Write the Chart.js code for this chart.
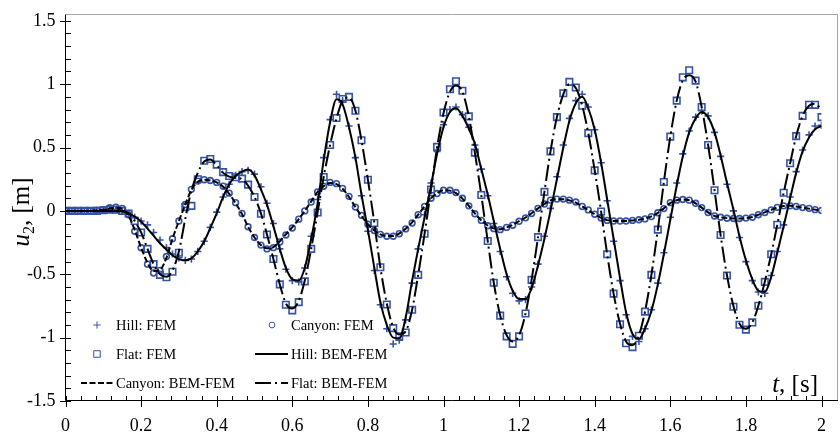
<!DOCTYPE html>
<html>
<head>
<meta charset="utf-8">
<script src="https://cdn.jsdelivr.net/npm/chart.js@4.4.1/dist/chart.umd.min.js"></script>
<style>
  html, body { margin: 0; padding: 0; background: #fff; }
  #wrap { width: 840px; height: 434px; }
</style>
</head>
<body>
<div id="wrap"><canvas id="chart" width="840" height="434"></canvas></div>
<script>
// time samples, s (FEM output every 1/60 s)
const times = [
  0, 0.017, 0.033, 0.05, 0.067, 0.083,
  0.1, 0.117, 0.133, 0.15, 0.167, 0.183,
  0.2, 0.217, 0.233, 0.25, 0.267, 0.283,
  0.3, 0.317, 0.333, 0.35, 0.367, 0.383,
  0.4, 0.417, 0.433, 0.45, 0.467, 0.483,
  0.5, 0.517, 0.533, 0.55, 0.567, 0.583,
  0.6, 0.617, 0.633, 0.65, 0.667, 0.683,
  0.7, 0.717, 0.733, 0.75, 0.767, 0.783,
  0.8, 0.817, 0.833, 0.85, 0.867, 0.883,
  0.9, 0.917, 0.933, 0.95, 0.967, 0.983,
  1.0, 1.017, 1.033, 1.05, 1.067, 1.083,
  1.1, 1.117, 1.133, 1.15, 1.167, 1.183,
  1.2, 1.217, 1.233, 1.25, 1.267, 1.283,
  1.3, 1.317, 1.333, 1.35, 1.367, 1.383,
  1.4, 1.417, 1.433, 1.45, 1.467, 1.483,
  1.5, 1.517, 1.533, 1.55, 1.567, 1.583,
  1.6, 1.617, 1.633, 1.65, 1.667, 1.683,
  1.7, 1.717, 1.733, 1.75, 1.767, 1.783,
  1.8, 1.817, 1.833, 1.85, 1.867, 1.883,
  1.9, 1.917, 1.933, 1.95, 1.967, 1.983,
  2.0
];

// u2 [m] - FEM results (markers)
const hillFem = [
  0, 0, 0, 0, 0, 0,
  0.005, 0.01, 0.01, 0, -0.02, -0.05,
  -0.08, -0.11, -0.17, -0.23, -0.29, -0.34,
  -0.37, -0.39, -0.38, -0.32, -0.24, -0.13,
  -0.01, 0.11, 0.21, 0.28, 0.31, 0.32,
  0.29, 0.19, 0.06, -0.1, -0.3, -0.46,
  -0.55, -0.56, -0.45, -0.2, 0.09, 0.42,
  0.72, 0.92, 0.87, 0.67, 0.42, 0.12,
  -0.16, -0.47, -0.74, -0.93, -1.05, -1.02,
  -0.86, -0.57, -0.3, -0.03, 0.22, 0.47,
  0.68, 0.8, 0.82, 0.76, 0.66, 0.52,
  0.33, 0.12, -0.1, -0.32, -0.52, -0.65,
  -0.71, -0.7, -0.6, -0.42, -0.2, 0.02,
  0.27, 0.52, 0.73, 0.87, 0.92, 0.82,
  0.64, 0.38, 0.08, -0.24, -0.55, -0.82,
  -0.99, -1.03, -0.93, -0.78, -0.57, -0.33,
  -0.05, 0.22, 0.45, 0.63, 0.74, 0.79,
  0.75, 0.62, 0.43, 0.21, 0, -0.21,
  -0.4, -0.55, -0.64, -0.65, -0.51, -0.32,
  -0.11, 0.11, 0.31, 0.48, 0.6, 0.67,
  0.675
];
const canyonFem = [
  0, 0, 0, 0, 0, 0.005,
  0.01, 0.025, 0.03, 0.02, -0.03, -0.16,
  -0.29, -0.42, -0.49, -0.47, -0.36, -0.22,
  -0.08, 0.05, 0.17, 0.235, 0.246, 0.24,
  0.225, 0.195, 0.14, 0.065, -0.02, -0.125,
  -0.21, -0.27, -0.3, -0.29, -0.245, -0.19,
  -0.135, -0.065, 0, 0.07, 0.15, 0.195,
  0.225, 0.215, 0.178, 0.115, 0.03, -0.035,
  -0.105, -0.155, -0.185, -0.2, -0.2, -0.18,
  -0.142, -0.095, -0.03, 0.035, 0.1, 0.137,
  0.163, 0.163, 0.145, 0.1, 0.04, -0.023,
  -0.075, -0.117, -0.14, -0.148, -0.13, -0.113,
  -0.082, -0.055, -0.02, 0.02, 0.054, 0.085,
  0.093, 0.093, 0.085, 0.07, 0.035, 0.008,
  -0.026, -0.057, -0.075, -0.08, -0.08, -0.08,
  -0.075, -0.07, -0.063, -0.045, -0.015, 0.018,
  0.065, 0.085, 0.09, 0.085, 0.06, 0.026,
  -0.013, -0.04, -0.05, -0.058, -0.06, -0.06,
  -0.057, -0.05, -0.03, -0.013, 0.008, 0.028,
  0.04, 0.04, 0.035, 0.026, 0.02, 0.01,
  0.003
];
const flatFem = [
  0, 0, 0, 0, 0, 0,
  0.005, 0.01, 0.01, 0, -0.02, -0.08,
  -0.17, -0.3, -0.42, -0.505, -0.523, -0.48,
  -0.33, 0.03, 0.04, 0.25, 0.396, 0.41,
  0.365, 0.306, 0.275, 0.265, 0.255, 0.207,
  0.11, -0.023, -0.186, -0.38, -0.58, -0.74,
  -0.785, -0.72, -0.556, -0.3, -0.013, 0.267,
  0.52, 0.733, 0.883, 0.9, 0.79, 0.557,
  0.246, -0.096, -0.445, -0.738, -0.925, -0.99,
  -0.96, -0.78, -0.505, -0.18, 0.169, 0.505,
  0.777, 0.96, 1.023, 0.948, 0.746, 0.46,
  0.125, -0.238, -0.567, -0.826, -0.99, -1.049,
  -0.99, -0.81, -0.544, -0.207, 0.15, 0.47,
  0.74, 0.928, 1.018, 0.974, 0.83, 0.614,
  0.32, -0.005, -0.342, -0.653, -0.894, -1.044,
  -1.075, -0.985, -0.795, -0.505, -0.148, 0.228,
  0.586, 0.87, 1.054, 1.11, 1.028, 0.82,
  0.52, 0.163, -0.19, -0.51, -0.756, -0.898,
  -0.937, -0.88, -0.748, -0.56, -0.342, -0.109,
  0.143, 0.376, 0.59, 0.75, 0.837, 0.837,
  0.74
];

// u2 [m] - BEM-FEM results (lines)
const hillLine = [
  0, 0, 0, 0, 0, 0,
  0, 0, 0, -0.005, -0.02, -0.045,
  -0.083, -0.14, -0.195, -0.255, -0.305, -0.35,
  -0.38, -0.39, -0.375, -0.32, -0.24, -0.135,
  -0.02, 0.11, 0.21, 0.275, 0.31, 0.326,
  0.28, 0.17, 0.05, -0.12, -0.3, -0.45,
  -0.54, -0.55, -0.45, -0.22, 0.06, 0.4,
  0.7, 0.88, 0.84, 0.66, 0.42, 0.13,
  -0.15, -0.45, -0.72, -0.9, -1.0, -1.005,
  -0.84, -0.55, -0.3, -0.05, 0.2, 0.45,
  0.66, 0.78, 0.81, 0.75, 0.65, 0.53,
  0.33, 0.13, -0.08, -0.3, -0.5, -0.63,
  -0.695, -0.695, -0.61, -0.43, -0.22, 0,
  0.25, 0.5, 0.71, 0.85, 0.9, 0.81,
  0.64, 0.38, 0.09, -0.22, -0.53, -0.8,
  -0.97, -1.01, -0.93, -0.79, -0.58, -0.34,
  -0.07, 0.2, 0.43, 0.62, 0.73, 0.78,
  0.74, 0.62, 0.44, 0.22, 0.01, -0.2,
  -0.39, -0.54, -0.63, -0.64, -0.52, -0.33,
  -0.12, 0.1, 0.3, 0.47, 0.58, 0.645,
  0.67
];
const canyonLine = [
  0, 0, 0, 0, 0, 0.005,
  0.01, 0.02, 0.025, 0.015, -0.04, -0.15,
  -0.29, -0.41, -0.475, -0.465, -0.37, -0.22,
  -0.08, 0.05, 0.165, 0.23, 0.245, 0.24,
  0.225, 0.19, 0.135, 0.06, -0.025, -0.125,
  -0.21, -0.27, -0.295, -0.285, -0.24, -0.185,
  -0.13, -0.065, 0, 0.075, 0.15, 0.195,
  0.22, 0.212, 0.175, 0.11, 0.03, -0.04,
  -0.105, -0.155, -0.185, -0.198, -0.198, -0.178,
  -0.14, -0.09, -0.03, 0.035, 0.1, 0.14,
  0.163, 0.16, 0.14, 0.097, 0.04, -0.02,
  -0.075, -0.115, -0.138, -0.145, -0.13, -0.11,
  -0.08, -0.052, -0.018, 0.02, 0.055, 0.083,
  0.092, 0.092, 0.083, 0.065, 0.035, 0.006,
  -0.027, -0.055, -0.073, -0.08, -0.08, -0.079,
  -0.075, -0.07, -0.06, -0.043, -0.015, 0.02,
  0.062, 0.084, 0.09, 0.084, 0.06, 0.026,
  -0.012, -0.04, -0.05, -0.057, -0.06, -0.06,
  -0.056, -0.048, -0.03, -0.012, 0.008, 0.027,
  0.038, 0.04, 0.035, 0.026, 0.018, 0.01,
  0.002
];
const flatLine = [
  0, 0, 0, 0, 0, 0,
  0.005, 0.01, 0.01, 0, -0.02, -0.08,
  -0.17, -0.3, -0.42, -0.5, -0.52, -0.47,
  -0.32, -0.06, 0.16, 0.3, 0.39, 0.405,
  0.36, 0.3, 0.27, 0.262, 0.25, 0.2,
  0.11, -0.02, -0.186, -0.38, -0.58, -0.73,
  -0.77, -0.71, -0.55, -0.3, -0.01, 0.267,
  0.52, 0.73, 0.87, 0.895, 0.79, 0.557,
  0.246, -0.096, -0.445, -0.73, -0.92, -0.975,
  -0.95, -0.78, -0.505, -0.18, 0.169, 0.5,
  0.77, 0.94, 0.99, 0.94, 0.746, 0.46,
  0.125, -0.238, -0.567, -0.826, -0.98, -1.03,
  -0.98, -0.81, -0.544, -0.207, 0.15, 0.47,
  0.74, 0.92, 1.0, 0.97, 0.83, 0.614,
  0.32, -0.005, -0.342, -0.653, -0.89, -1.03,
  -1.06, -0.98, -0.795, -0.505, -0.148, 0.228,
  0.586, 0.87, 1.03, 1.07, 1.02, 0.82,
  0.52, 0.163, -0.19, -0.51, -0.75, -0.89,
  -0.93, -0.88, -0.748, -0.56, -0.342, -0.109,
  0.143, 0.376, 0.59, 0.75, 0.83, 0.845,
  0.8
];

const BLUE = '#3553a5';
const SERIF = "'Liberation Serif', 'Times New Roman', serif";

const toPoints = (vals) => vals.map((v, i) => ({ x: times[i], y: v }));
const fmt = (v) => String(+Number(v).toFixed(1));

const markerSet = (label, vals, style, radius) => ({
  label: label,
  data: toPoints(vals),
  showLine: false,
  pointStyle: style,
  pointRadius: radius,
  pointBorderWidth: 1.6,
  pointBorderColor: BLUE,
  pointBackgroundColor: 'rgba(0,0,0,0)',
  borderColor: BLUE,
  order: 1,
});

const lineSet = (label, vals, dash) => ({
  label: label,
  data: toPoints(vals),
  showLine: true,
  borderColor: '#000',
  borderWidth: 2,
  borderDash: dash,
  pointRadius: 0,
  cubicInterpolationMode: 'monotone',
  order: 0,
});

const datasets = [
  markerSet('Hill: FEM', hillFem, 'cross', 3.6),
  markerSet('Canyon: FEM', canyonFem, 'circle', 2.9),
  markerSet('Flat: FEM', flatFem, 'rect', 4.6),
  lineSet('Hill: BEM-FEM', hillLine, []),
  lineSet('Canyon: BEM-FEM', canyonLine, [6, 2.5]),
  lineSet('Flat: BEM-FEM', flatLine, [16, 4, 2, 4]),
];

// legend slots inside the plot (two columns, three rows)
const legendSlots = [
  { ds: 0, x: 97, y: 325, tx: 116 },
  { ds: 1, x: 272, y: 325, tx: 291 },
  { ds: 2, x: 97, y: 354, tx: 116 },
  { ds: 3, x: 255, x2: 288, y: 354, tx: 291 },
  { ds: 4, x: 81, x2: 115, y: 383, tx: 116 },
  { ds: 5, x: 255, x2: 288, y: 383, tx: 291 },
];

// frame, minor ticks, axis titles and legend
const decoPlugin = {
  id: 'deco',
  afterDraw(chart) {
    const { ctx, chartArea: a, scales } = chart;
    const xs = scales.x, ys = scales.y;
    ctx.save();

    // light frame on top and right
    ctx.strokeStyle = '#a6a6a6';
    ctx.lineWidth = 1;
    ctx.beginPath();
    ctx.moveTo(a.left, 14.5);
    ctx.lineTo(837.5, 14.5);
    ctx.lineTo(837.5, 400.5);
    ctx.stroke();

    // axis lines
    ctx.strokeStyle = '#000';
    ctx.beginPath();
    ctx.moveTo(65.5, 14.5);
    ctx.lineTo(65.5, 400.5);
    ctx.lineTo(838, 400.5);
    ctx.stroke();

    // y ticks
    ctx.beginPath();
    for (let i = -15; i <= 15; i++) {
      const py = Math.round(ys.getPixelForValue(i / 10)) + 0.5;
      if (i % 5 === 0) {
        ctx.moveTo(60, py); ctx.lineTo(71, py);
      } else {
        ctx.moveTo(65.5, py); ctx.lineTo(71, py);
      }
    }
    // x ticks
    for (let i = 0; i <= 50; i++) {
      const px = Math.round(xs.getPixelForValue(i * 0.04)) + 0.5;
      if (i % 5 === 0) {
        ctx.moveTo(px, 396); ctx.lineTo(px, 407);
      } else {
        ctx.moveTo(px, 396); ctx.lineTo(px, 400.5);
      }
    }
    ctx.stroke();

    // x title: t, [s]
    ctx.fillStyle = '#000';
    ctx.textBaseline = 'alphabetic';
    ctx.font = 'italic 25px ' + SERIF;
    const wt = ctx.measureText('t').width;
    ctx.font = '25px ' + SERIF;
    const wr = ctx.measureText(', [s]').width;
    const sx = 818 - wt - wr;
    ctx.font = 'italic 25px ' + SERIF;
    ctx.fillText('t', sx, 392);
    ctx.font = '25px ' + SERIF;
    ctx.fillText(', [s]', sx + wt, 392);

    // y title: u2, [m]
    ctx.save();
    ctx.translate(29, 212);
    ctx.rotate(-Math.PI / 2);
    ctx.font = 'italic 25px ' + SERIF;
    const wu = ctx.measureText('u').width;
    ctx.font = '16px ' + SERIF;
    const w2 = ctx.measureText('2').width;
    ctx.font = '25px ' + SERIF;
    const wm = ctx.measureText(', [m]').width;
    let cx = -(wu + w2 + wm) / 2;
    ctx.font = 'italic 25px ' + SERIF;
    ctx.fillText('u', cx, 0);
    cx += wu;
    ctx.font = '16px ' + SERIF;
    ctx.fillText('2', cx, 5);
    cx += w2;
    ctx.font = '25px ' + SERIF;
    ctx.fillText(', [m]', cx, 0);
    ctx.restore();

    // legend
    ctx.font = '14.5px ' + SERIF;
    legendSlots.forEach((s) => {
      const ds = chart.data.datasets[s.ds];
      if (ds.showLine) {
        ctx.save();
        ctx.strokeStyle = ds.borderColor;
        ctx.lineWidth = ds.borderWidth;
        ctx.setLineDash(ds.borderDash);
        ctx.beginPath();
        ctx.moveTo(s.x, s.y);
        ctx.lineTo(s.x2, s.y);
        ctx.stroke();
        ctx.restore();
      } else {
        ctx.save();
        ctx.strokeStyle = ds.pointBorderColor;
        ctx.fillStyle = ds.pointBackgroundColor;
        Chart.helpers.drawPoint(ctx, {
          pointStyle: ds.pointStyle,
          radius: ds.pointRadius,
          borderWidth: ds.pointBorderWidth,
          rotation: 0,
        }, s.x, s.y);
        ctx.restore();
      }
      ctx.fillStyle = '#000';
      ctx.fillText(ds.label, s.tx, s.y + 5);
    });

    ctx.restore();
  },
};

const tickFont = { family: SERIF, size: 18 };

new Chart(document.getElementById('chart'), {
  type: 'scatter',
  data: { datasets: datasets },
  options: {
    responsive: false,
    animation: false,
    devicePixelRatio: 1,
    events: [],
    layout: { autoPadding: false, padding: { left: 0, right: 2, top: 14.5, bottom: 0 } },
    plugins: { legend: { display: false }, tooltip: { enabled: false } },
    scales: {
      x: {
        type: 'linear',
        min: 0,
        max: 2,
        afterFit(scale) { scale.height = 33; },
        grid: { display: false, drawTicks: false },
        border: { display: false },
        ticks: { stepSize: 0.2, padding: 14, color: '#000', font: tickFont, maxRotation: 0, autoSkip: false, callback: fmt },
      },
      y: {
        type: 'linear',
        min: -1.5,
        max: 1.5,
        afterFit(scale) { scale.width = 65.5; },
        grid: { display: false, drawTicks: false },
        border: { display: false },
        ticks: { stepSize: 0.5, padding: 10, color: '#000', font: tickFont, callback: fmt },
      },
    },
  },
  plugins: [decoPlugin],
});
</script>
</body>
</html>
